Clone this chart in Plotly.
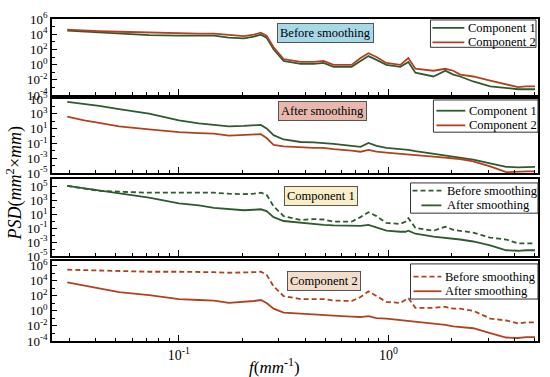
import plotly.graph_objects as go

# ---------------- data ----------------
freq = [0.0293, 0.0353, 0.0416, 0.0518, 0.0720, 0.100, 0.1245, 0.147, 0.173, 0.204,
        0.228, 0.246, 0.262, 0.283, 0.316, 0.381, 0.440, 0.490, 0.547, 0.667,
        0.736, 0.803, 0.877, 0.978, 1.14, 1.205, 1.245, 1.345, 1.64, 1.87,
        2.04, 2.20, 2.54, 3.06, 3.65, 4.16, 4.54, 5.01]

# panel 1: before smoothing
c1_before_p1 = [2.9e4, 2.1e4, 1.6e4, 1.2e4, 7.6e3, 6.6e3, 6.6e3, 6.6e3, 3.6e3, 2.8e3,
                4.9e3, 8.9e3, 3.6e3, 107, 3.1, 1.26, 1.26, 1.7, 0.52, 0.52,
                3.1, 13.5, 4.2, 0.93, 0.52, 1.26, 2.3, 0.089, 0.028, 0.16,
                0.049, 0.028, 0.0062, 0.0014, 7.9e-4, 5.9e-4, 5.9e-4, 5.9e-4]
c2_before_p1 = [3.9e4, 2.9e4, 2.5e4, 2.1e4, 1.6e4, 1.4e4, 1.2e4, 1.2e4, 7.6e3, 5.7e3,
                8.9e3, 1.6e4, 6.6e3, 190, 5.5, 2.3, 2.3, 3.1, 0.93, 0.93,
                7.4, 32, 10, 1.7, 0.93, 3.1, 7.4, 0.29, 0.16, 0.29,
                0.16, 0.049, 0.028, 0.0083, 0.0026, 0.0011, 0.0014, 0.0014]
# panel 2: after smoothing
c1_after_p2 = [4.1e4, 2.2e4, 1.2e4, 4.2e3, 1.07e3, 130, 51, 32, 21, 24,
               28, 32, 11, 1.35, 0.35, 0.16, 0.14, 0.12, 0.089, 0.048,
               0.035, 0.12, 0.048, 0.026, 0.019, 0.014, 0.014, 0.0091, 0.0043, 0.0027,
               0.0017, 0.0013, 6.9e-4, 2.1e-4, 7.2e-5, 6.2e-5, 7.2e-5, 7.2e-5]
c2_after_p2 = [430, 130, 60, 21, 8.3, 3.4, 2.5, 2.1, 1.17, 1.35,
               1.8, 1.8, 0.55, 0.066, 0.042, 0.031, 0.026, 0.026, 0.017, 0.011,
               0.0078, 0.014, 0.0078, 0.0058, 0.0037, 0.0032, 0.0032, 0.0027, 0.0017, 0.0013,
               0.0011, 8.1e-4, 3.8e-4, 8.3e-5, 1.35e-5, 1.8e-5, 1.8e-5, 1.8e-5]
# panel 3: component 1
c1_before_p3 = [1.3e5, 5.9e4, 2.6e4, 1.9e4, 1.35e4, 1.35e4, 1.35e4, 1.35e4, 9.8e3, 8.3e3,
                9.8e3, 1.35e4, 7.1e3, 150, 5.8, 1.6, 2.2, 1.9, 0.91, 0.91,
                4.2, 21, 5.8, 0.60, 0.44, 0.91, 3.0, 0.12, 0.046, 0.17,
                0.063, 0.046, 0.024, 0.0047, 0.0025, 6.8e-4, 6.8e-4, 6.8e-4]
c1_after_p3 = [1.3e5, 5.9e4, 2.6e4, 9.8e3, 2.7e3, 390, 200, 91, 56, 41,
               48, 56, 30, 4.2, 1.15, 0.60, 0.44, 0.32, 0.27, 0.23,
               0.23, 0.32, 0.14, 0.046, 0.033, 0.033, 0.046, 0.017, 0.0065, 0.0047,
               0.0034, 0.0025, 0.0013, 3.5e-4, 7.1e-5, 6.0e-5, 7.1e-5, 7.1e-5]
# panel 4: component 2
c2_before_p4 = [2.8e5, 2.4e5, 2.0e5, 1.7e5, 1.5e5, 1.5e5, 1.5e5, 1.3e5, 1.1e5, 1.1e5,
                1.3e5, 1.5e5, 6.2e4, 1.7e3, 89, 36, 36, 36, 23, 20,
                66, 390, 89, 15, 11, 27, 49, 2.5, 2.5, 3.4,
                1.9, 1.9, 1.0, 0.095, 0.052, 0.021, 0.029, 0.029]
c2_after_p4 = [5.7e3, 2.3e3, 960, 290, 120, 36, 27, 23, 11, 15,
               20, 27, 11, 1.9, 0.56, 0.42, 0.31, 0.27, 0.23, 0.17,
               0.15, 0.20, 0.11, 0.095, 0.060, 0.052, 0.052, 0.039, 0.025, 0.014,
               0.0087, 0.0076, 0.0049, 0.0011, 2.9e-4, 2.5e-4, 3.3e-4, 3.3e-4]

panel_titles = ["Before smoothing", "After smoothing", "Component 1", "Component 2"]
legend_names = [["Component 1", "Component 2"], ["Component 1", "Component 2"],
                ["Before smoothing", "After smoothing"], ["Before smoothing", "After smoothing"]]
y_ranges = [[-4, 6], [-5, 5], [-5, 6.1], [-4, 6.6]]
y_tick_exps = [[-4, -2, 0, 2, 4, 6], [-5, -3, -1, 1, 3, 5],
               [-5, -3, -1, 1, 3, 5], [-4, -2, 0, 2, 4, 6]]
x_major = [0.1, 1]
x_major_text = ["10<sup>-1</sup>", "10<sup>0</sup>"]
x_minor = [0.03, 0.04, 0.05, 0.06, 0.07, 0.08, 0.09,
           0.2, 0.3, 0.4, 0.5, 0.6, 0.7, 0.8, 0.9, 2, 3, 4, 5]

# ---------------- styling / layout ----------------
GREEN = "#2f5a30"
RED = "#b0421f"
FONT = "Liberation Serif"
LW = 1.8
domains = [[0.7636, 1.0], [0.5212, 0.7515], [0.2634, 0.5030], [0.0, 0.2485]]
box_colors = ["#a8d8e6", "#e8b8ae", "#f8eec8", "#f2dccb"]
box_pos = [(0.463, 0.988), (0.465, 0.745), (0.477, 0.482), (0.484, 0.218)]

# legend geometry (paper coords): box, sample line x-range, line y's, text x
leg_box = [(0.7787, 0.9121, 0.9959, 0.9970), (0.7848, 0.6485, 1.0, 0.7485),
           (0.7377, 0.3970, 1.0, 0.4909), (0.7377, 0.1303, 1.0, 0.2394)]
leg_line_x = [[(0.7828, 0.8484), (0.7828, 0.8484)], [(0.7910, 0.8504), (0.7910, 0.8504)],
              [(0.7418, 0.8012), (0.7602, 0.8012)], [(0.7439, 0.8012), (0.7439, 0.8012)]]
leg_rows = [(0.9727, 0.9273), (0.7152, 0.6697), (0.4667, 0.4212), (0.2000, 0.1545)]
leg_text_x = [0.8525, 0.8545, 0.8094, 0.8053]

series = [
    [(c1_before_p1, GREEN, "solid"), (c2_before_p1, RED, "solid")],
    [(c1_after_p2, GREEN, "solid"), (c2_after_p2, RED, "solid")],
    [(c1_before_p3, GREEN, "5px,3px"), (c1_after_p3, GREEN, "solid")],
    [(c2_before_p4, RED, "5px,3px"), (c2_after_p4, RED, "solid")],
]

fig = go.Figure()
layout = {}
shapes = []
annotations = []

for i in range(4):
    xa = "x" if i == 0 else f"x{i+1}"
    ya = "y" if i == 0 else f"y{i+1}"
    for (vals, col, dash), name in zip(series[i], legend_names[i]):
        fig.add_trace(go.Scatter(x=freq, y=vals, mode="lines", name=name,
                                 line=dict(color=col, width=LW, dash=dash),
                                 xaxis=xa, yaxis=ya, showlegend=False))
    xkey = "xaxis" if i == 0 else f"xaxis{i+1}"
    ykey = "yaxis" if i == 0 else f"yaxis{i+1}"
    layout[xkey] = dict(
        type="log", range=[-1.606, 0.714], anchor=ya, domain=[0, 1],
        showline=True, linecolor="black", linewidth=1.5, mirror=True,
        ticks="inside", ticklen=6, tickwidth=1.2, tickcolor="black",
        tickvals=x_major, ticktext=x_major_text,
        showticklabels=(i == 3), showgrid=False, zeroline=False,
        tickfont=dict(family=FONT, size=14, color="black"),
        minor=dict(tickvals=x_minor, ticks="inside", ticklen=3, tickwidth=1,
                   tickcolor="black", showgrid=False),
    )
    if i > 0:
        layout[xkey]["matches"] = "x"
    exps = y_tick_exps[i]
    layout[ykey] = dict(
        type="log", range=y_ranges[i], anchor=xa, domain=domains[i],
        showline=True, linecolor="black", linewidth=1.5, mirror=True,
        ticks="inside", ticklen=5, tickwidth=1.2, tickcolor="black",
        tickvals=[10.0 ** e for e in exps],
        ticktext=[f"10<sup>{e}</sup>" for e in exps],
        showgrid=False, zeroline=False,
        tickfont=dict(family=FONT, size=13, color="black"),
        minor=dict(dtick=1, ticks="inside", ticklen=3, tickwidth=1,
                   tickcolor="black", showgrid=False),
    )

    # panel label box
    bx, by = box_pos[i]
    annotations.append(dict(
        text=panel_titles[i], xref="paper", yref="paper", x=bx, y=by,
        xanchor="left", yanchor="top", showarrow=False,
        font=dict(family=FONT, size=12.5, color="black"),
        bgcolor=box_colors[i], bordercolor="#555555", borderwidth=1, borderpad=2,
    ))

    # legend (box, sample lines, labels)
    x0, y0, x1, y1 = leg_box[i]
    shapes.append(dict(type="rect", xref="paper", yref="paper", x0=x0, y0=y0, x1=x1, y1=y1,
                       line=dict(color="#333333", width=1), fillcolor="white", layer="above"))
    for (vals, col, dash), name, (lx0, lx1), ly in zip(series[i], legend_names[i],
                                                       leg_line_x[i], leg_rows[i]):
        shapes.append(dict(type="line", xref="paper", yref="paper", x0=lx0, x1=lx1, y0=ly, y1=ly,
                           line=dict(color=col, width=LW, dash=dash), layer="above"))
        annotations.append(dict(
            text=name, xref="paper", yref="paper", x=leg_text_x[i], y=ly,
            xanchor="left", yanchor="middle", showarrow=False,
            font=dict(family=FONT, size=12.5, color="black"),
        ))

annotations.append(dict(
    text="<i>PSD</i>(<i>mm</i><sup>2</sup>×<i>mm</i>)", xref="paper", yref="paper",
    x=-0.0758, y=0.49, xanchor="center", yanchor="middle", textangle=-90, showarrow=False,
    font=dict(family=FONT, size=18, color="black"),
))
annotations.append(dict(
    text="<i>f</i>(<i>mm</i><sup>-1</sup>)", xref="paper", yref="paper",
    x=0.458, y=-0.079, xanchor="center", yanchor="middle", showarrow=False,
    font=dict(family=FONT, size=17, color="black"),
))

fig.update_layout(
    width=550, height=377,
    margin=dict(l=52, r=10, t=11, b=36),
    paper_bgcolor="white", plot_bgcolor="white",
    showlegend=False, annotations=annotations, shapes=shapes,
    **layout,
)

fig.write_html("out.html", config={"displayModeBar": False},
               post_script="document.body.style.margin='0';")
